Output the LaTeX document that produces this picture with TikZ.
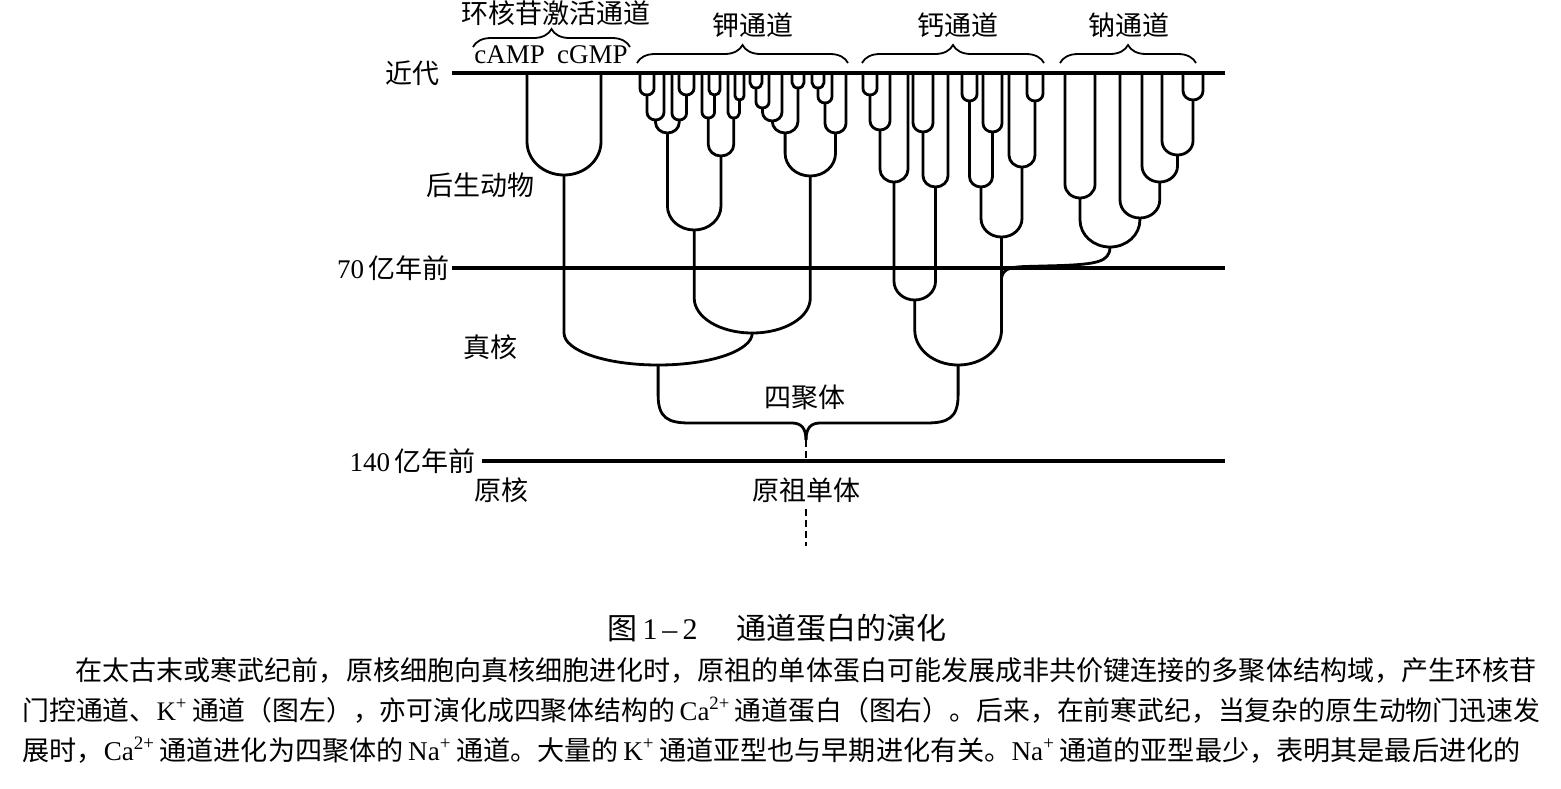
\documentclass[tikz,border=0pt]{standalone}
\usepackage{fontspec}
\setmainfont{Liberation Serif}
\newfontfamily\cjk{Noto Sans CJK SC}
\usetikzlibrary{decorations.pathreplacing}
\tikzstyle{branch}=[line width=1.4pt, line join=round]
\tikzstyle{epoch}=[line width=1.6pt]
\tikzstyle{brc}=[decorate, decoration={brace, amplitude=9pt}, line width=0.9pt]
\tikzstyle{rootline}=[line width=1.4pt, dash pattern=on 3.5pt off 2pt]
\tikzstyle{lbl}=[inner sep=0pt, font=\cjk\fontsize{13.5}{16}\selectfont]
\tikzstyle{para}=[inner sep=0pt, anchor=west]
\newcommand{\ujoin}[6]{%
  \pgfmathsetmacro{\uw}{#4-#2}%
  \pgfmathsetmacro{\uh}{min(0.45*\uw,35,#6-max(#3,#5))}%
  \pgfmathsetmacro{\um}{(#2+#4)/2}%
  \coordinate (#1) at (\um,#6);%
  \draw[branch] (#2,#3) -- (#2,#6-\uh) .. controls (#2,#6-0.45*\uh) and (\um-0.28*\uw,#6) .. (#1)
    .. controls (\um+0.28*\uw,#6) and (#4,#6-0.45*\uh) .. (#4,#6-\uh) -- (#4,#5);%
}

\begin{document}
\begin{tikzpicture}[x=0.5pt, y=-0.5pt]
        \useasboundingbox (0,0) rectangle (1561,788);
        \node[lbl, anchor=east] (modern) at (440,73) {近代};
        \node[lbl, anchor=east] (t70) at (450,268) {\rmfamily 70\,{\cjk 亿年前}};
        \node[lbl, anchor=east] (t140) at (476,461) {\rmfamily 140\,{\cjk 亿年前}};
        \node[lbl] (metazoa) at (480,185) {后生动物};
        \node[lbl] (eukaryote) at (490,347) {真核};
        \node[lbl] (prokaryote) at (501,490) {原核};
        \node[lbl] (ancestor) at (806,490) {原祖单体};
        \node[lbl] (tetramer) at (805,397) {四聚体};
        \node[lbl] (cyclic) at (556,13) {环核苷激活通道};
        \node[lbl, font=\fontsize{13.5}{16}\selectfont] (camp) at (551,55) {cAMP\hspace{0.45em}cGMP};
        \node[lbl] (kchan) at (753,25) {钾通道};
        \node[lbl] (cachan) at (958,25) {钙通道};
        \node[lbl] (nachan) at (1129,25) {钠通道};
        \coordinate (e1) at (1225,73);
        \coordinate (e2) at (1225,268);
        \coordinate (e3) at (1225,461);
        \draw[epoch, shorten <=6pt] (modern.east) -- (e1);
        \draw[epoch, shorten <=1pt] (t70.east) -- (e2);
        \draw[epoch, shorten <=3pt] (t140.east) -- (e3);
        \draw[brc] (473,47) -- (630,47);
        \draw[brc] (637,63) -- (848,63);
        \draw[brc] (862,63) -- (1044,63);
        \draw[brc] (1060,63) -- (1196,63);
        \ujoin{cyc}{527}{73}{601}{73}{175}
        \ujoin{a1}{640}{73}{654}{73}{95}
        \ujoin{a2}{647}{95}{664}{73}{120}
        \ujoin{a3}{679}{73}{694}{73}{95}
        \ujoin{a4}{672}{73}{686.5}{95}{120}
        \ujoin{a5}{655.5}{120}{679.25}{120}{133}
        \ujoin{b1}{709}{73}{720}{73}{95}
        \ujoin{b2}{702}{73}{714.5}{95}{118}
        \ujoin{b3}{735}{73}{744}{73}{100}
        \ujoin{b4}{728}{73}{739.5}{100}{118}
        \ujoin{b5}{708.25}{118}{733.75}{118}{156}
        \ujoin{kab}{667.4}{133}{721}{156}{230}
        \ujoin{c1}{750}{73}{762}{73}{88}
        \ujoin{c2}{756}{88}{769}{73}{108}
        \ujoin{c3}{762.5}{108}{782}{73}{121}
        \ujoin{c5}{792}{73}{804}{73}{88}
        \ujoin{c4}{772.25}{121}{798}{88}{133}
        \ujoin{c6}{812}{73}{824}{73}{88}
        \ujoin{c7}{818}{88}{832}{73}{103}
        \ujoin{c8}{825}{103}{846}{73}{133}
        \ujoin{kc}{785.1}{133}{835.5}{133}{176}
        \ujoin{km}{694.2}{230}{810.3}{176}{333}
        \ujoin{kcyc}{564}{175}{752.25}{333}{365}
        \ujoin{u1}{863}{73}{877}{73}{95}
        \ujoin{u2}{870}{95}{890}{73}{130}
        \ujoin{u3}{880}{130}{908}{73}{182}
        \ujoin{u4}{913}{73}{933}{73}{132}
        \ujoin{u5}{923}{132}{948}{73}{187}
        \ujoin{u6}{962}{73}{977}{73}{101}
        \ujoin{u7}{983}{73}{1002}{73}{132}
        \ujoin{u8}{969.5}{101}{992.5}{132}{187}
        \ujoin{u10}{1027}{73}{1043}{73}{101}
        \ujoin{u9}{1009}{73}{1035}{101}{167}
        \ujoin{u11}{981}{187}{1022}{167}{237}
        \ujoin{cal}{894}{182}{935.5}{187}{300}
        \ujoin{cam}{914.75}{300}{1001.5}{237}{365}
        \ujoin{n1}{1065}{73}{1095}{73}{198}
        \ujoin{n2}{1183}{73}{1203}{73}{100}
        \ujoin{n3}{1162}{73}{1193}{100}{155}
        \ujoin{n4}{1142}{73}{1177.5}{155}{182}
        \ujoin{n5}{1120}{73}{1159.75}{182}{218}
        \ujoin{na}{1080}{198}{1139.9}{218}{247}
        \draw[branch] (na) .. controls (1110,262) and (1096,264) .. (1062,265.5) -- (1025,266.5)
            .. controls (1010,267) and (1003,269) .. (1001.5,278);
        \coordinate (tip) at (806,440);
        \coordinate (root) at (806,461);
        \coordinate (stub) at (806,546);
        \draw[branch] (kcyc) -- (658.1,395) .. controls (658.1,418) and (668,423) .. (690,423) -- (792,423)
            .. controls (801,423) and (806,428) .. (tip);
        \draw[branch] (cam) -- (958.1,395) .. controls (958.1,418) and (948,423) .. (926,423) -- (820,423)
            .. controls (811,423) and (806,428) .. (tip);
        \draw[rootline] (tip) -- (root);
        \draw[rootline, shorten <=3pt] (ancestor.south) -- (stub);
        \node[inner sep=0pt, font=\fontsize{15}{18}\selectfont] (caption) at (777,628)
            {{\cjk 图}\,1\,–\,2\hspace{1.3em}{\cjk 通道蛋白的演化}};
        \node[para, font=\cjk\fontsize{13.53}{16}\selectfont] (line1) at (75,670) {在太古末或寒武纪前，原核细胞向真核细胞进化时，原祖的单体蛋白可能发展成非共价键连接的多聚体结构域，产生环核苷};
        \node[para, font=\cjk\fontsize{13.42}{16}\selectfont] (line2) at (22,710) {门控通道、{\rmfamily K\textsuperscript{+}}\,通道（图左），亦可演化成四聚体结构的\,{\rmfamily Ca\textsuperscript{2+}}\,通道蛋白（图右）。后来，在前寒武纪，当复杂的原生动物门迅速发};
        \node[para, font=\cjk\fontsize{13.56}{16}\selectfont] (line3) at (22,750) {展时，{\rmfamily Ca\textsuperscript{2+}}\,通道进化为四聚体的\,{\rmfamily Na\textsuperscript{+}}\,通道。大量的\,{\rmfamily K\textsuperscript{+}}\,通道亚型也与早期进化有关。{\rmfamily Na\textsuperscript{+}}\,通道的亚型最少，表明其是最后进化的};
    \end{tikzpicture}
\end{document}
